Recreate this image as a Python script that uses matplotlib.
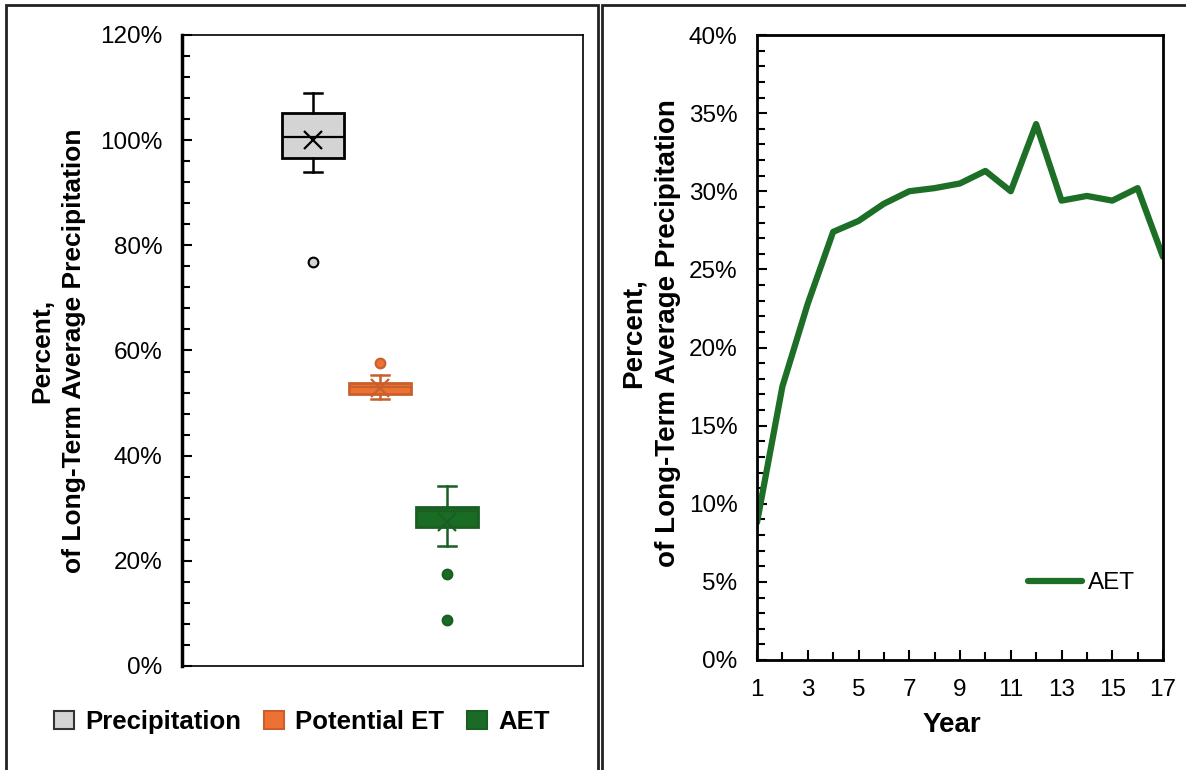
import matplotlib
matplotlib.use("Agg")
import matplotlib.pyplot as plt
from matplotlib.patches import Rectangle, Patch
from matplotlib.ticker import MultipleLocator, FixedLocator, PercentFormatter

# ---- data (fractions of long-term average precipitation)
series = ["Precipitation", "Potential ET", "AET"]
q1 = [0.966, 0.517, 0.264]
med = [1.006, 0.530, 0.294]
q3 = [1.051, 0.538, 0.302]
whislo = [0.939, 0.508, 0.228]
whishi = [1.089, 0.553, 0.343]
means = [1.000, 0.529, 0.274]
fliers = [[0.768], [0.576], [0.175, 0.088]]

years = list(range(1, 18))
aet = [0.088, 0.175, 0.228, 0.274, 0.281, 0.292, 0.300, 0.302, 0.305,
       0.313, 0.300, 0.343, 0.294, 0.297, 0.294, 0.302, 0.258]
year_labels = list(range(1, 18, 2))

fills = ["#d4d4d4", "#ed7133", "#1a6b24"]
edges = ["#000000", "#c9602b", "#195e22"]
line_green = "#1d6e26"

plt.rcParams["font.family"] = ["Liberation Sans", "DejaVu Sans"]
fig = plt.figure(figsize=(11.86, 7.70), dpi=100)

# panel frames
fig.add_artist(Rectangle((6 / 1186, -0.05), (598 - 6) / 1186, 1.05 - 5 / 770,
                         transform=fig.transFigure, fill=False, lw=2, ec="#222222"))
fig.add_artist(Rectangle((602 / 1186, -0.05), 0.6, 1.05 - 5 / 770,
                         transform=fig.transFigure, fill=False, lw=2, ec="#222222"))

ylab = "Percent,\nof Long-Term Average Precipitation"

# ---- left: box plots
ax = fig.add_axes([182 / 1186, 1 - 666 / 770, 401 / 1186, 631 / 770])
stats = [dict(q1=q1[i], med=med[i], q3=q3[i], whislo=whislo[i], whishi=whishi[i],
              mean=means[i], fliers=fliers[i]) for i in range(3)]
pos = [1, 2, 3]
for i in range(3):
    ax.bxp([stats[i]], positions=[pos[i]], widths=0.925, capwidths=0.28, patch_artist=True,
           showmeans=True, showfliers=True,
           boxprops=dict(facecolor=fills[i], edgecolor=edges[i], lw=2),
           medianprops=dict(color=edges[i], lw=1.6),
           whiskerprops=dict(color=edges[i], lw=1.8),
           capprops=dict(color=edges[i], lw=1.8),
           meanprops=dict(marker="x", markeredgecolor=edges[i], markersize=13, markeredgewidth=1.6),
           flierprops=dict(marker="o", markerfacecolor=fills[i], markeredgecolor=edges[i],
                           markersize=7, markeredgewidth=1.5))
ax.set_xlim(-0.955, 5.03)
ax.set_ylim(0, 1.2)
ax.yaxis.set_major_locator(MultipleLocator(0.2))
ax.yaxis.set_minor_locator(MultipleLocator(0.04))
ax.yaxis.set_major_formatter(PercentFormatter(1.0, decimals=0))
ax.tick_params(axis="y", which="both", direction="in", labelsize=17.5, pad=14)
ax.tick_params(axis="y", which="major", length=7, width=1.5)
ax.tick_params(axis="y", which="minor", length=6, width=1.5)
ax.tick_params(axis="x", bottom=False, labelbottom=False)
for s in ax.spines.values():
    s.set_linewidth(1.2)
ax.spines["left"].set_linewidth(2.5)
ax.set_ylabel(ylab, fontsize=19, fontweight="bold", linespacing=1.4)
ax.yaxis.set_label_coords(-0.24, 0.5)
handles = [Patch(facecolor=fills[i], edgecolor=edges[i] if i else "#333333", lw=1.5)
           for i in range(3)]
fig.legend(handles, series, loc="center", bbox_to_anchor=(302 / 1186, 1 - 722 / 770),
           ncol=3, frameon=False, prop=dict(size=18.5, weight="bold"),
           handlelength=0.75, handleheight=0.75, handletextpad=0.45, columnspacing=0.9)

# ---- right: AET by year
ax2 = fig.add_axes([757 / 1186, 1 - 660 / 770, 406 / 1186, 625 / 770])
ax2.plot(years, aet, color=line_green, lw=4.5, solid_capstyle="round", label="AET")
ax2.set_xlim(1, 17)
ax2.set_ylim(0, 0.4)
ax2.xaxis.set_major_locator(FixedLocator(year_labels))
ax2.xaxis.set_minor_locator(MultipleLocator(1))
ax2.yaxis.set_major_locator(MultipleLocator(0.05))
ax2.yaxis.set_minor_locator(MultipleLocator(0.01))
ax2.yaxis.set_major_formatter(PercentFormatter(1.0, decimals=0))
ax2.tick_params(which="both", direction="in", labelsize=17.5, width=1.5)
ax2.tick_params(which="major", length=7)
ax2.tick_params(which="minor", length=6)
ax2.tick_params(axis="y", pad=14)
ax2.tick_params(axis="x", pad=14)
for s in ax2.spines.values():
    s.set_linewidth(2)
ax2.set_xlabel("Year", fontsize=20, fontweight="bold", va="top")
ax2.xaxis.set_label_coords(0.48, -0.083)
ax2.set_ylabel(ylab, fontsize=20, fontweight="bold", linespacing=1.4)
ax2.yaxis.set_label_coords(-0.188, 0.523)
ax2.legend(loc="lower right", bbox_to_anchor=(0.985, 0.07), frameon=False, fontsize=17.5,
           handlelength=2.2, handletextpad=0.25)

fig.savefig("out.png", dpi=100)
